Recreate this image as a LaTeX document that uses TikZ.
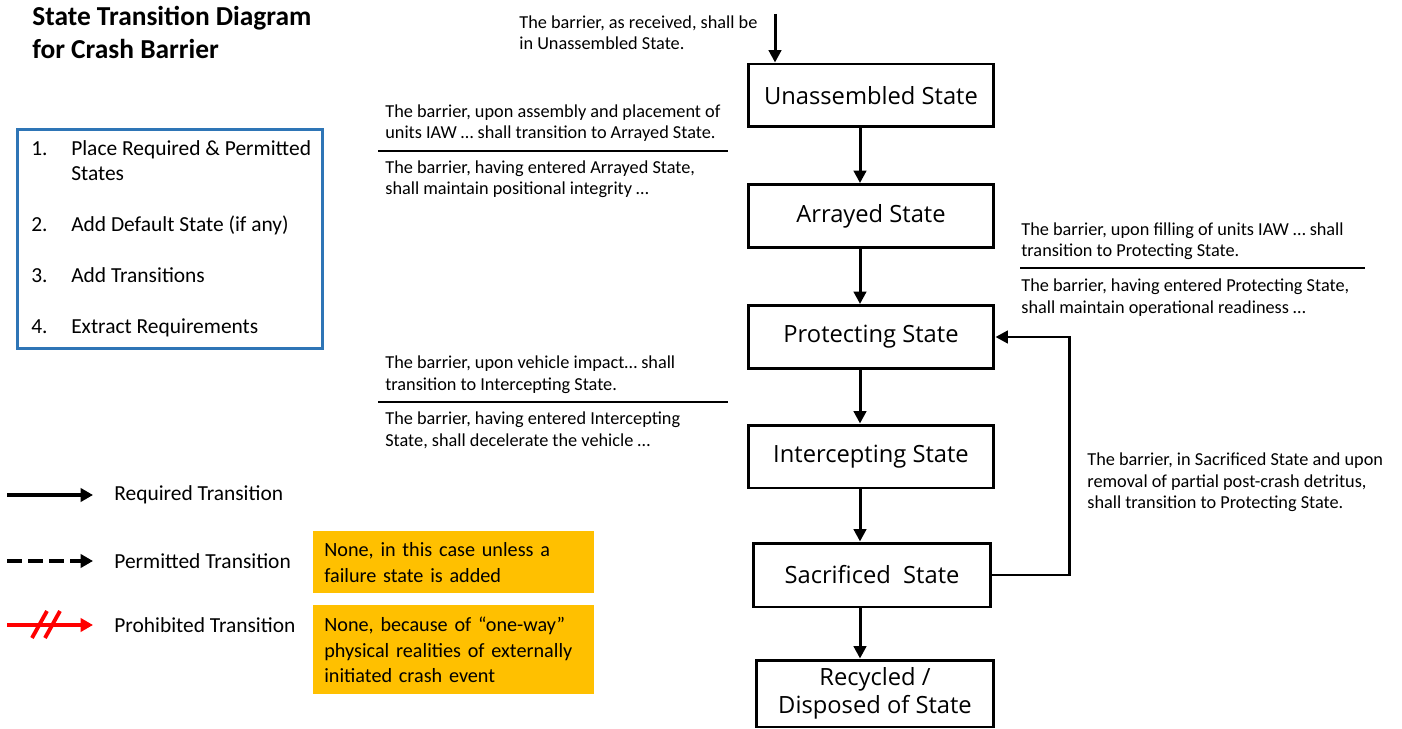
\documentclass[tikz,border=0pt]{standalone}
\usepackage{fontspec}
\setmainfont{Carlito}
\newfontfamily\statefont{Open Sans}
\usetikzlibrary{arrows.meta, positioning}
\definecolor{boxblue}{RGB}{46,117,182}
\definecolor{noteamber}{RGB}{255,192,0}

\tikzset{
  state/.style={draw, line width=1.7pt, minimum width=4.92cm, minimum height=1.26cm,
    align=center, font=\statefont\fontsize{13.5}{16}\selectfont},
  trans/.style={-{Triangle[length=7pt, width=7pt]}, line width=1.7pt},
  legarrow/.style={-{Triangle[length=7pt, width=7.5pt]}, line width=2.2pt},
  note/.style={anchor=north west, inner sep=0pt, align=left,
    font=\fontsize{10.4}{12.5}\selectfont},
  legtext/.style={anchor=west, inner sep=0pt, font=\fontsize{12.2}{14}\selectfont},
  amber/.style={anchor=north west, fill=noteamber, minimum width=5.62cm, text width=5.18cm,
    inner xsep=0.22cm, align=left, font=\fontsize{11.5}{14.7}\selectfont},
}

\begin{document}
\begin{tikzpicture}[x=0.02cm, y=-0.02cm]
\useasboundingbox (0,0) rectangle (1402,729);

%title
\node[anchor=north west, inner sep=0pt, align=left, font=\bfseries\fontsize{15.6}{18.7}\selectfont]
  (title) at (32,6) {State Transition Diagram\\for Crash Barrier};

%steps
\node[draw=boxblue, line width=1.7pt, minimum width=6.12cm, minimum height=4.4cm, inner sep=0pt,
  font=\fontsize{12.2}{14.7}\selectfont] (steps) at (170,239) {%
  \begin{tabular}{@{\hspace{0.25cm}}p{0.8cm}@{}p{5cm}@{}}
  1. & Place Required \& Permitted\newline States\\[14.2pt]
  2. & Add Default State (if any)\\[14.2pt]
  3. & Add Transitions\\[14.2pt]
  4. & Extract Requirements
  \end{tabular}};

%states
\node[state] (unas) at (871,95.5) {Unassembled State};
\node[state] (arrayed) at (871,216) {Arrayed State};
\node[state] (protect) at (871,337) {Protecting State};
\node[state] (intercept) at (871,456.5) {Intercepting State};
\node[state, minimum width=4.76cm, minimum height=1.28cm] (sacrif) at (872,575) {Sacrificed~~State};
\node[state, minimum width=4.76cm, minimum height=1.34cm, inner sep=1pt] (recyc) at (875,693.5) {Recycled /\\Disposed of State};

%transitions
\coordinate (entry) at (775,14);
\coordinate (spine) at (860,0);
\draw[trans] (entry) -- (entry |- unas.north);
\draw[trans] (unas.south -| spine) -- (arrayed.north -| spine);
\draw[trans] (arrayed.south -| spine) -- (protect.north -| spine);
\draw[trans] (protect.south -| spine) -- (intercept.north -| spine);
\draw[trans] (intercept.south -| spine) -- (sacrif.north -| spine);
\draw[trans] (sacrif.south -| spine) -- (recyc.north -| spine);
\draw[trans] (sacrif.east) -- ++(77,0) |- (protect.east);

%requirement texts
\node[note] (entrynote) at (519,15) {The barrier, as received, shall be\\in Unassembled State.};
\node[note] (arrnoteA) at (385,104) {The barrier, upon assembly and placement of\\units IAW \dots\ shall transition to Arrayed State.};
\node[note] (arrnoteB) at (385,160) {The barrier, having entered Arrayed State,\\shall maintain positional integrity \dots};
\draw[line width=0.6pt] (378,151) -- (728,151);
\node[note] (protnoteA) at (1021,222) {The barrier, upon filling of units IAW \dots\ shall\\transition to Protecting State.};
\node[note] (protnoteB) at (1021,278) {The barrier, having entered Protecting State,\\shall maintain operational readiness \dots};
\draw[line width=0.6pt] (1020,268) -- (1365,268);
\node[note] (icpnoteA) at (385,355) {The barrier, upon vehicle impact\dots\ shall\\transition to Intercepting State.};
\node[note] (icpnoteB) at (385,411) {The barrier, having entered Intercepting\\State, shall decelerate the vehicle \dots};
\draw[line width=0.6pt] (378,402) -- (728,402);
\node[note] (returnnote) at (1087,452) {The barrier, in Sacrificed State and upon\\removal of partial post-crash detritus,\\shall transition to Protecting State.};

%legend
\coordinate (reqA) at (7,495);
\coordinate (reqB) at (93,495);
\draw[legarrow] (reqA) -- (reqB);
\node[legtext] (reqtext) at (114,495) {Required Transition};
\coordinate (permA) at (7,561);
\coordinate (permB) at (93,561);
\draw[legarrow, dash pattern=on 8.5pt off 3.5pt] (permA) -- (permB);
\node[legtext] (permtext) at (114,561) {Permitted Transition};
\coordinate (prohA) at (7,625);
\coordinate (prohB) at (93,625);
\draw[legarrow, red] (prohA) -- (prohB);
\draw[line width=2.2pt, red] (32,638) -- (47,611) (45,638) -- (60,611);
\node[legtext] (prohtext) at (114,625) {Prohibited Transition};

\node[amber, minimum height=1.24cm] (permnote) at (313,531) {None, in this case unless a\\failure state is added};
\node[amber, minimum height=1.78cm] (prohnote) at (313,605) {None, because of “one-way”\\physical realities of externally\\initiated crash event};
\end{tikzpicture}
\end{document}
